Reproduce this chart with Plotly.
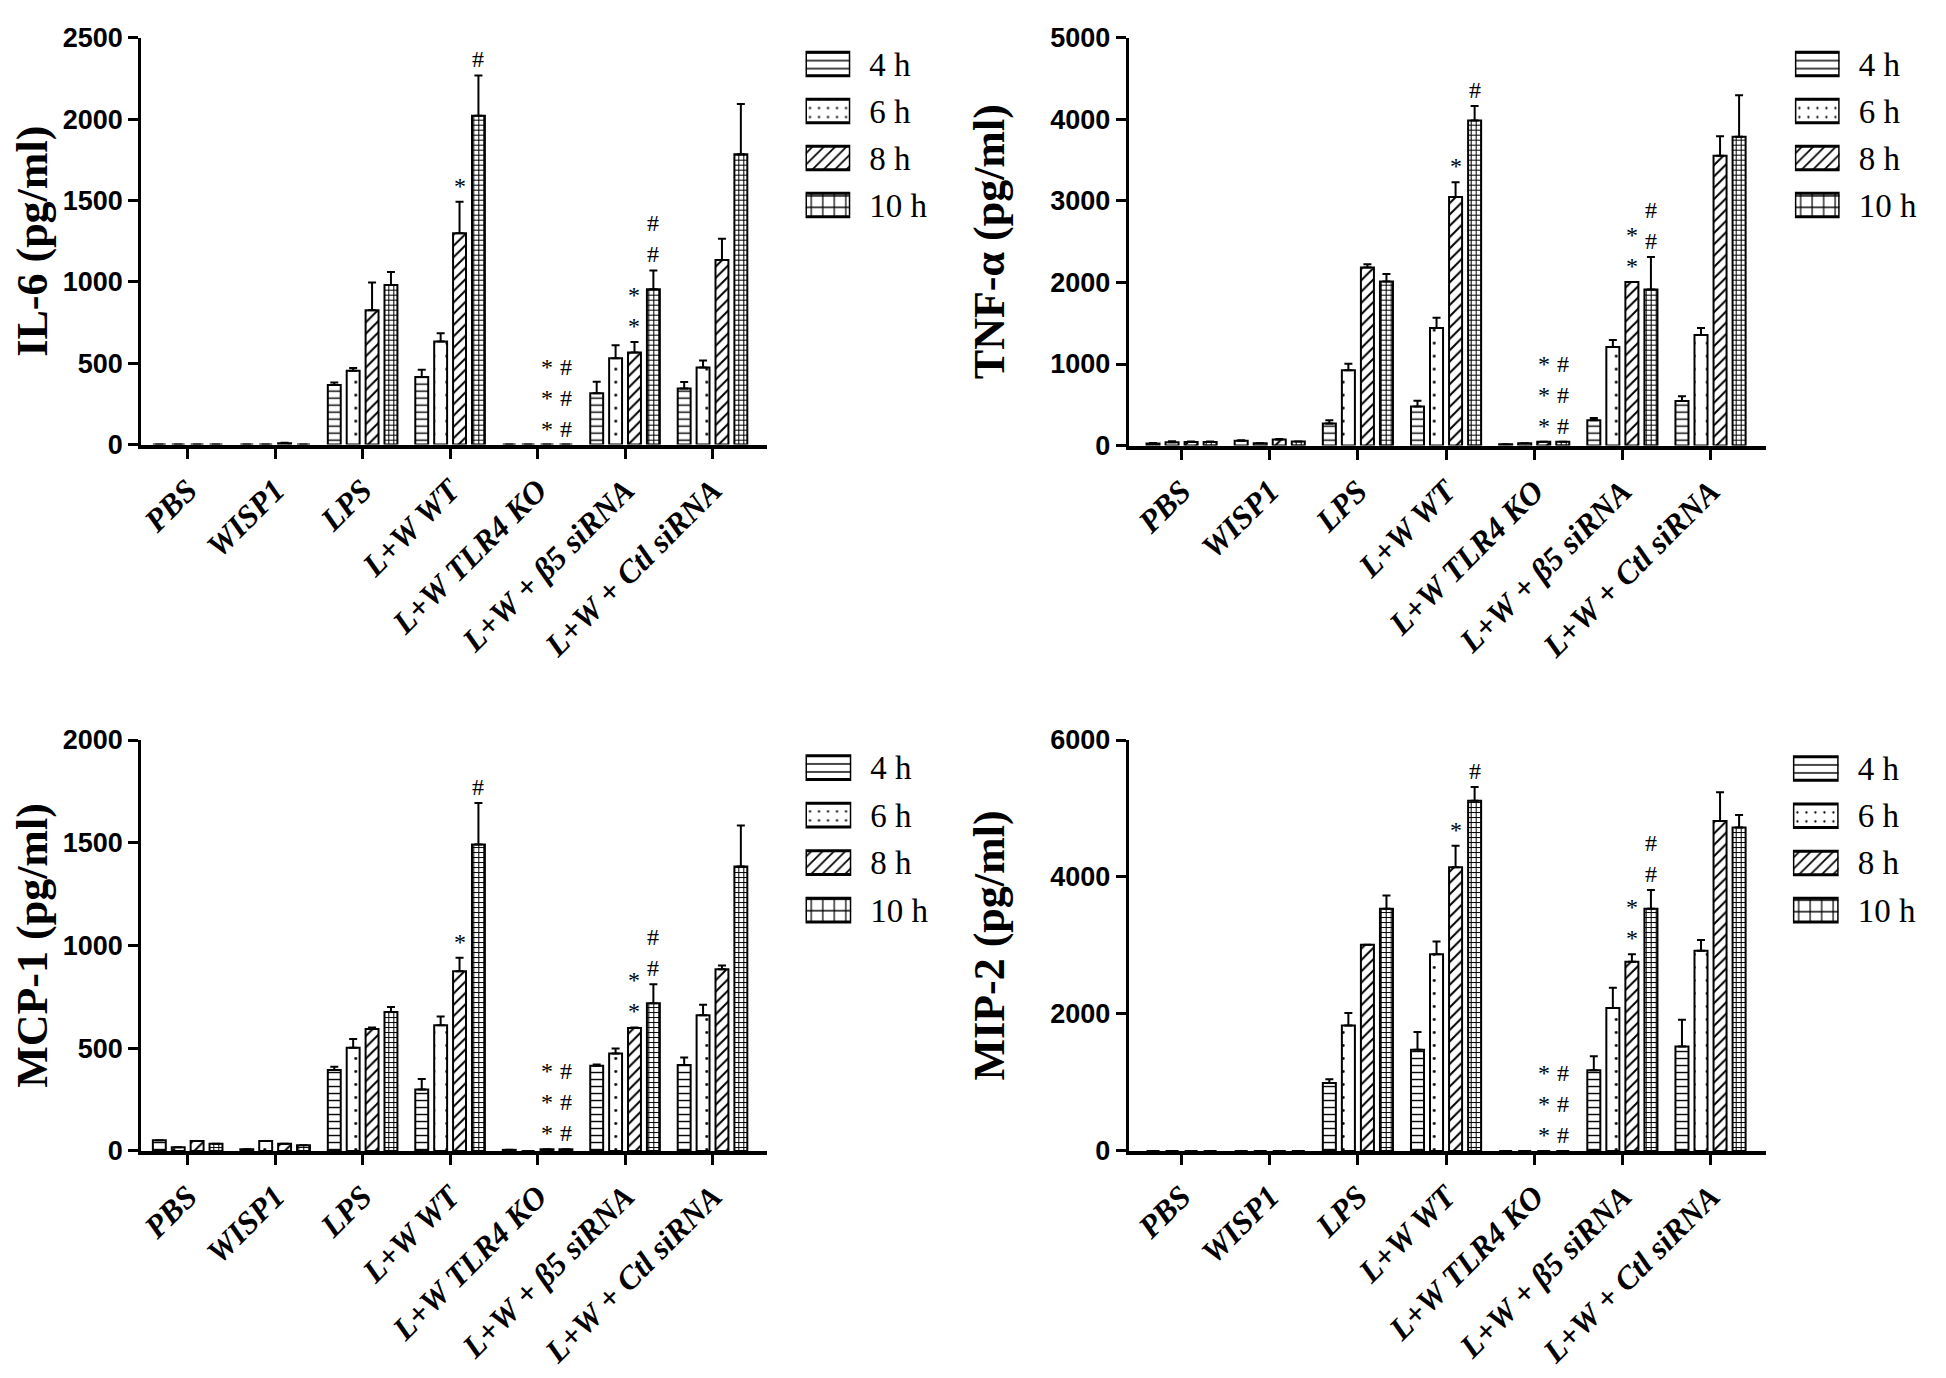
import plotly.graph_objects as go

categories = ["PBS", "WISP1", "LPS", "L+W WT", "L+W TLR4 KO",
              "L+W + β5 siRNA", "L+W + Ctl siRNA"]
times = ["4 h", "6 h", "8 h", "10 h"]

# IL-6 (pg/ml)
il6_4h = [0, 0, 366, 416, 0, 316, 344]
il6_6h = [0, 0, 454, 634, 0, 530, 474]
il6_8h = [0, 8, 826, 1298, 0, 566, 1134]
il6_10h = [0, 0, 980, 2020, 0, 954, 1784]
il6_4h_err = [0, 0, 16, 44, 0, 70, 40]
il6_6h_err = [0, 0, 16, 50, 0, 80, 42]
il6_8h_err = [0, 3, 170, 194, 0, 64, 130]
il6_10h_err = [0, 0, 80, 248, 0, 116, 308]

# TNF-alpha (pg/ml)
tnf_4h = [25, 60, 271, 478, 16, 311, 546]
tnf_6h = [40, 30, 924, 1442, 30, 1207, 1355]
tnf_8h = [45, 75, 2183, 3048, 48, 2004, 3554]
tnf_10h = [45, 50, 2012, 3984, 48, 1912, 3785]
tnf_4h_err = [8, 5, 40, 72, 0, 28, 60]
tnf_6h_err = [12, 0, 80, 124, 0, 88, 87]
tnf_8h_err = [5, 5, 40, 179, 0, 0, 239]
tnf_10h_err = [5, 0, 92, 179, 0, 399, 510]

# MCP-1 (pg/ml)
mcp_4h = [52, 8, 394, 299, 5, 415, 418]
mcp_6h = [18, 48, 502, 612, 0, 474, 660]
mcp_8h = [48, 35, 593, 875, 8, 598, 884]
mcp_10h = [35, 28, 676, 1491, 8, 719, 1385]
mcp_4h_err = [0, 0, 16, 51, 0, 5, 37]
mcp_6h_err = [0, 0, 43, 42, 0, 25, 52]
mcp_8h_err = [0, 0, 8, 65, 0, 3, 19]
mcp_10h_err = [0, 0, 24, 202, 0, 92, 199]

# MIP-2 (pg/ml)
mip_4h = [0, 0, 990, 1476, 0, 1176, 1524]
mip_6h = [0, 0, 1833, 2871, 0, 2086, 2924]
mip_8h = [0, 0, 3010, 4143, 0, 2762, 4819]
mip_10h = [0, 0, 3538, 5114, 0, 3538, 4724]
mip_4h_err = [0, 0, 58, 262, 0, 205, 390]
mip_6h_err = [0, 0, 181, 186, 0, 295, 157]
mip_8h_err = [0, 0, 0, 314, 0, 109, 419]
mip_10h_err = [0, 0, 191, 200, 0, 272, 181]

# significance marks: (category index, time index, symbol, count)
sig_marks = [(3, 2, "*", 1), (3, 3, "#", 1), (4, 2, "*", 3),
             (4, 3, "#", 3), (5, 2, "*", 2), (5, 3, "#", 2)]

W, H = 1946, 1378
BARGAP = 0.136
GROUPGAP = 0.316

shapes_main = ["-", ".", "/", "+"]
sizes_main = [7, 13, 8, 5]
solid_main = [0.2, 0.04, 0.25, 0.36]

panels = [
    dict(title="IL-6 (pg/ml)", vals=[il6_4h, il6_6h, il6_8h, il6_10h],
         errs=[il6_4h_err, il6_6h_err, il6_8h_err, il6_10h_err],
         ymax=2500, dtick=500, px=(123, 752), py=(15, 431), xr=(-0.53, 6.62),
         leg_x=(791, 836), leg_y=(18, 210), standoff=24),
    dict(title="TNF-α (pg/ml)", vals=[tnf_4h, tnf_6h, tnf_8h, tnf_10h],
         errs=[tnf_4h_err, tnf_6h_err, tnf_8h_err, tnf_10h_err],
         ymax=5000, dtick=1000, px=(1116, 1757), py=(15, 432), xr=(-0.6, 6.63),
         leg_x=(1786, 1831), leg_y=(18, 210), standoff=32),
    dict(title="MCP-1 (pg/ml)", vals=[mcp_4h, mcp_6h, mcp_8h, mcp_10h],
         errs=[mcp_4h_err, mcp_6h_err, mcp_8h_err, mcp_10h_err],
         ymax=2000, dtick=500, px=(123, 752), py=(733, 1153), xr=(-0.53, 6.62),
         leg_x=(791, 837), leg_y=(737, 931), standoff=24),
    dict(title="MIP-2 (pg/ml)", vals=[mip_4h, mip_6h, mip_8h, mip_10h],
         errs=[mip_4h_err, mip_6h_err, mip_8h_err, mip_10h_err],
         ymax=6000, dtick=2000, px=(1116, 1757), py=(733, 1153), xr=(-0.6, 6.63),
         leg_x=(1784, 1830), leg_y=(738, 931), standoff=32),
]

fig = go.Figure()
layout = dict(
    width=W, height=H, margin=dict(l=0, r=0, t=0, b=0),
    paper_bgcolor="white", plot_bgcolor="white",
    barmode="group", bargap=BARGAP, bargroupgap=GROUPGAP,
    showlegend=False,
)
annotations = []

SERIF = "Liberation Serif, Times New Roman, serif"
tick_font_y = dict(family="Liberation Sans, Arial, sans-serif", size=27, color="black", weight="bold")
tick_font_x = dict(family=SERIF, size=32, color="black", weight="bold", style="italic")
title_font = dict(family=SERIF, size=44, color="black", weight="bold")
mark_font = dict(family=SERIF, size=24, color="black")
legend_font = dict(family=SERIF, size=33, color="black")

for i, p in enumerate(panels):
    n = i + 1
    xa = "x" if n == 1 else f"x{n}"
    ya = "y" if n == 1 else f"y{n}"
    for t in range(4):
        fig.add_trace(go.Bar(
            x=categories, y=p["vals"][t], name=times[t],
            xaxis=xa, yaxis=ya,
            marker=dict(color="white", line=dict(color="black", width=2),
                        pattern=dict(shape=shapes_main[t], fgcolor="black", bgcolor="white",
                                     size=sizes_main[t], solidity=solid_main[t],
                                     fillmode="replace")),
            error_y=dict(type="data", symmetric=False, array=p["errs"][t],
                         arrayminus=[0] * len(categories), color="black",
                         thickness=2, width=4),
            cliponaxis=False,
        ))
    xd = [p["px"][0] / W, p["px"][1] / W]
    yd = [1 - p["py"][1] / H, 1 - p["py"][0] / H]
    layout["xaxis" if n == 1 else f"xaxis{n}"] = dict(
        domain=xd, range=list(p["xr"]), type="category",
        categoryorder="array", categoryarray=categories,
        showline=True, linewidth=4, linecolor="black",
        ticks="outside", ticklen=10, tickwidth=3, tickcolor="black",
        tickangle=-45, tickfont=tick_font_x, anchor=ya,
        showgrid=False, zeroline=False, fixedrange=True,
    )
    layout["yaxis" if n == 1 else f"yaxis{n}"] = dict(
        domain=yd, range=[0, p["ymax"]], dtick=p["dtick"], tick0=0,
        showline=True, linewidth=3, linecolor="black",
        ticks="outside", ticklen=10, tickwidth=3, tickcolor="black",
        tickfont=tick_font_y, anchor=xa, showgrid=False, zeroline=False,
        title=dict(text=p["title"], font=title_font, standoff=p["standoff"]),
    )
    # significance marks, stacked as one text per bar
    slot = (1 - BARGAP) / 4
    for (c, t, sym, cnt) in sig_marks:
        top = p["vals"][t][c] + p["errs"][t][c]
        annotations.append(dict(
            x=c + (t - 1.5) * slot, y=top, xref=xa, yref=ya,
            text="<br>".join([sym] * cnt), showarrow=False, font=mark_font,
            yshift=2, yanchor="bottom", xanchor="center", borderpad=0,
        ))
    # legend drawn as a small horizontal bar chart
    m = n + 4
    lxa, lya = f"x{m}", f"y{m}"
    fig.add_trace(go.Bar(
        x=[1, 1, 1, 1], y=times, orientation="h", width=0.5, base=0,
        xaxis=lxa, yaxis=lya, cliponaxis=False, hoverinfo="skip",
        marker=dict(color="white", line=dict(color="black", width=3),
                    pattern=dict(shape=shapes_main, fgcolor="black", bgcolor="white",
                                 size=[8, 9, 8, 11.5], solidity=[0.18, 0.05, 0.22, 0.2],
                                 fillmode="replace")),
    ))
    layout[f"xaxis{m}"] = dict(domain=[p["leg_x"][0] / W, p["leg_x"][1] / W],
                               range=[0, 1], visible=False, anchor=lya, fixedrange=True)
    layout[f"yaxis{m}"] = dict(domain=[1 - p["leg_y"][1] / H, 1 - p["leg_y"][0] / H],
                               type="category", categoryorder="array", categoryarray=times,
                               autorange="reversed", side="right", anchor=lxa,
                               showline=False, ticks="", showgrid=False, zeroline=False,
                               ticklabelstandoff=18, tickfont=legend_font)

layout["annotations"] = annotations
fig.update_layout(**layout)
fig.write_html("out.html")
